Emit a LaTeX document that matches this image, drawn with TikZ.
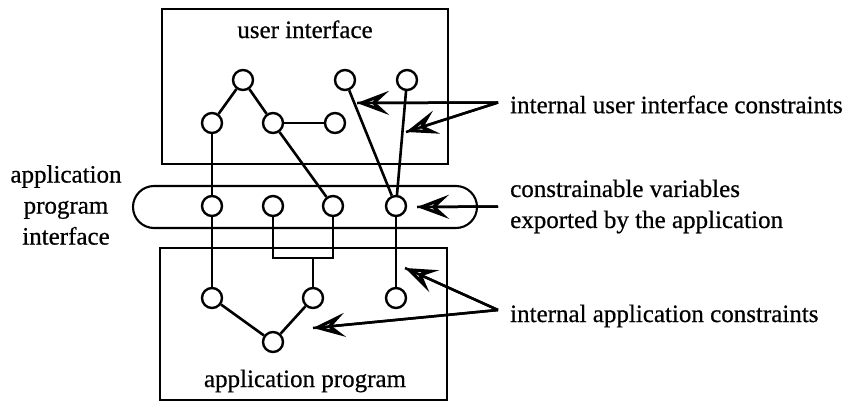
\documentclass[tikz,border=0pt]{standalone}
\usepackage{fontspec}
\setmainfont{Liberation Serif}[FakeBold=0.6]
\usetikzlibrary{arrows.meta}
\begin{document}
\begin{tikzpicture}[x=1pt, y=-1pt,
  every node/.style={font=\fontsize{25}{31}\selectfont},
  frame/.style={draw, line width=2.1pt, rectangle, inner sep=0pt},
  var/.style={circle, draw, line width=2.4pt, minimum size=20pt, inner sep=0pt},
  link/.style={line width=2.6pt},
  label/.style={inner xsep=12pt, inner ysep=0pt, anchor=west, align=left},
  pointer/.style={line width=2.5pt,
    -{Stealth[open, length=32pt, width=24pt, inset=13pt, line width=3.2pt]},
    preaction={draw, -, line width=2.5pt}}
]
\useasboundingbox (0,0) rectangle (852,402);

% the two layers and the interface between them
\node[frame, minimum width=286pt, minimum height=155pt] (ui) at (305,86.5) {};
\node[frame, minimum width=287pt, minimum height=152pt] (app) at (303.5,324) {};
\node[frame, rounded corners=21pt, minimum width=344pt, minimum height=42pt] (api) at (305,207) {};

\node[anchor=base, inner sep=0pt] (uitext) at (305,38) {user interface};
\node[anchor=base, inner sep=0pt] (apptext) at (305,387) {application program};
\node[anchor=north, align=center, inner sep=0pt] (apitext) at (66,165) {application\\program\\interface};

% variables of the user interface
\node[var] (t0) at (243,80) {};
\node[var] (t1) at (212,123) {};
\node[var] (t2) at (273,123) {};
\node[var] (t3) at (335,123) {};
\node[var] (t4) at (345,80) {};
\node[var] (t5) at (407,80) {};

% exported variables
\node[var] (p1) at (212,206) {};
\node[var] (p2) at (273,206) {};
\node[var] (p3) at (333,206) {};
\node[var] (p4) at (396,206) {};

% variables of the application
\node[var] (a1) at (212,298) {};
\node[var] (a2) at (313,298) {};
\node[var] (a3) at (396,298) {};
\node[var] (a4) at (273,342) {};

% constraints
\draw[link] (t0) -- (t1);
\draw[link] (t0) -- (t2);
\draw[link] (t2) -- (t3);
\draw[link] (t1) -- (p1);
\draw[link] (t2) -- (p3);
\draw[link] (t4) -- (p4);
\draw[link] (t5) -- (p4);
\draw[link] (p1) -- (a1);
\draw[link] (p4) -- (a3);
\draw[link] (a1) -- (a4);
\draw[link] (a2) -- (a4);
\coordinate (br) at (313,258);
\draw[link] (p2) |- (br) -| (p3);
\draw[link] (br) -- (a2);

% annotations
\node[label] (uic) at (498,104.5) {internal user interface constraints};
\node[label] (exp) at (498,206.5) {constrainable variables\\exported by the application};
\node[label] (apc) at (498,316) {internal application constraints};

\coordinate (uitip1) at (357,103);
\coordinate (uitip2) at (406,132);
\coordinate (exptip) at (417,207);
\coordinate (apptip1) at (405,268);
\coordinate (apptip2) at (313,328);

\draw[pointer] ([yshift=2pt]uic.west) -- (uitip1);
\draw[pointer] ([yshift=2pt]uic.west) -- (uitip2);
\draw[pointer] (exp.west) -- (exptip);
\draw[pointer] ([yshift=6pt]apc.west) -- (apptip1);
\draw[pointer] ([yshift=6pt]apc.west) -- (apptip2);
\end{tikzpicture}
\end{document}
